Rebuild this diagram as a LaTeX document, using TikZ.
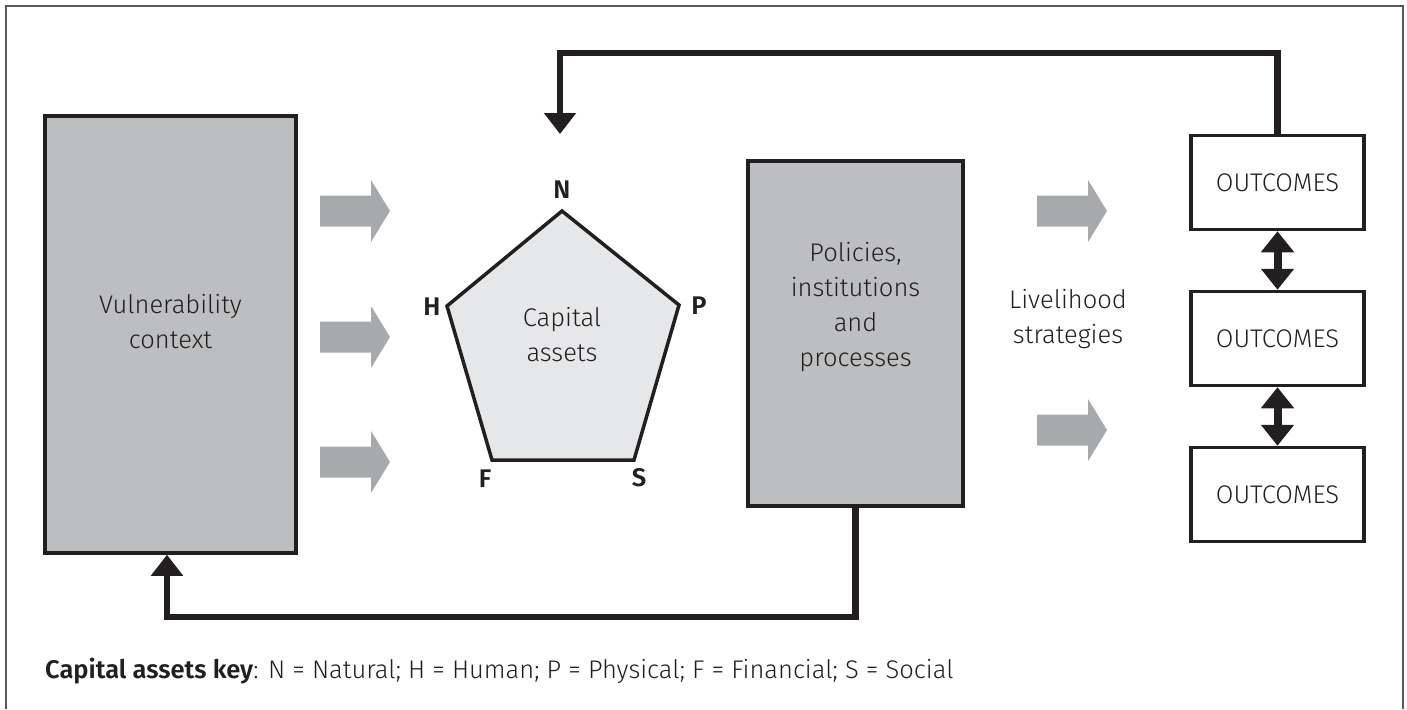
\documentclass[tikz,border=0pt]{standalone}
\usepackage{fontspec}
\setmainfont{Fira Sans}[UprightFont=* Light, BoldFont=* SemiBold]
\usetikzlibrary{arrows.meta,calc}
\definecolor{boxgray}{HTML}{BCBEC0}
\definecolor{pentfill}{HTML}{E6E7E8}
\definecolor{arrgray}{HTML}{A7A9AC}
\definecolor{ink}{HTML}{231F20}
\definecolor{framegray}{HTML}{58595B}
\begin{document}
\begin{tikzpicture}[x=1pt,y=-1pt,
  every node/.style={text=ink, font=\fontsize{25.5}{35}\selectfont},
  greybox/.style={draw=ink, fill=boxgray, line width=3.5pt, inner sep=0pt},
  outbox/.style={draw=ink, fill=white, line width=3.5pt, minimum width=173pt, minimum height=94pt, inner sep=0pt},
  txt/.style={align=center, inner sep=0pt},
  corner/.style={font=\fontsize{25.5}{30}\selectfont\bfseries, inner sep=0pt},
  fb/.style={draw=ink, line width=6.5pt, -{Triangle[width=31pt,length=21pt]}},
  dbl/.style={draw=ink, line width=8pt, {Triangle[width=32pt,length=21pt]}-{Triangle[width=32pt,length=21pt]}},
  grayarrow/.pic={\fill[arrgray] (0,-15.5) -- (51,-15.5) -- (51,-31) -- (70,0) -- (51,31) -- (51,15.5) -- (0,15.5) -- cycle;}
]
\useasboundingbox (0,0) rectangle (1407,709);
\fill[white] (0,0) rectangle (1407,709);
% outer frame
\draw[framegray, line width=1.5pt] (6,709) -- (6,6) -- (1403,6) -- (1403,709);

% vulnerability context
\node[greybox, minimum width=251pt, minimum height=437pt] (vuln) at (170.5,334.5) {};
\node[txt] (vtext) at (170.5,322) {Vulnerability\\context};

% policies
\node[greybox, minimum width=215pt, minimum height=345pt] (pol) at (855.5,333.5) {};
\node[txt] (ptext) at (855.5,307) {Policies,\\institutions\\and\\processes};

% pentagon
\coordinate (pN) at (562,211);
\coordinate (pH) at (447,306);
\coordinate (pP) at (679,305);
\coordinate (pF) at (492,460);
\coordinate (pS) at (634,460);
\draw[ink, fill=pentfill, line width=3.5pt, line join=miter] (pN) -- (pP) -- (pS) -- (pF) -- (pH) -- cycle;
\node[txt] (ctext) at (562,335) {Capital\\assets};
\node[corner] (lN) at (562,190) {N};
\node[corner] (lH) at (432,307) {H};
\node[corner] (lP) at (699,306) {P};
\node[corner] (lF) at (485,479) {F};
\node[corner] (lS) at (639,478) {S};

% gray arrows
\pic at (320,211) {grayarrow};
\pic at (320,337) {grayarrow};
\pic at (320,462) {grayarrow};
\pic at (1037,211) {grayarrow};
\pic at (1037,430) {grayarrow};

% livelihood strategies
\node[txt] (ltext) at (1068,319.5) {Livelihood\\strategies};

% outcomes
\node[outbox] (o1) at (1277.5,182.5) {OUTCOMES};
\node[outbox] (o2) at (1277.5,338.5) {OUTCOMES};
\node[outbox] (o3) at (1277.5,494.5) {OUTCOMES};
\draw[dbl] (o1.south) -- (o2.north);
\draw[dbl] (o2.south) -- (o3.north);

% feedback loops
\coordinate (ntip) at (560,134);
\coordinate (topc) at (560,53);
\draw[fb] (o1.north) |- (topc) -- (ntip);
\coordinate (vtip) at ([xshift=-3.5pt]vuln.south);
\coordinate (botc) at (167,617);
\draw[fb] (pol.south) |- (botc) -- (vtip);

% key
\node[inner sep=0pt, anchor=west] (key) at (45,671) {\textbf{Capital assets key}: N = Natural; H = Human; P = Physical; F = Financial; S = Social};
\end{tikzpicture}
\end{document}
